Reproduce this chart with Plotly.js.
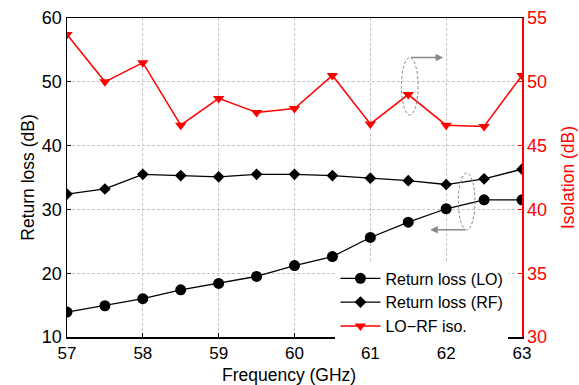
<!DOCTYPE html>
<html>
<head>
<meta charset="utf-8">
<script src="https://cdn.plot.ly/plotly-3.0.1.min.js"></script>
<style>html,body{margin:0;padding:0;background:#fff;}#chart{width:579px;height:385px;}</style>
</head>
<body>
<div id="chart"></div>
<script>
const freq = [57, 57.5, 58, 58.5, 59, 59.5, 60, 60.5, 61, 61.5, 62, 62.5, 63];
const returnLossLO = [13.9, 14.9, 16.0, 17.4, 18.4, 19.5, 21.2, 22.6, 25.6, 28.0, 30.1, 31.5, 31.5];
const returnLossRF = [32.4, 33.2, 35.5, 35.3, 35.1, 35.5, 35.5, 35.3, 34.9, 34.5, 33.9, 34.8, 36.3];
const isolationLORF = [53.7, 50.0, 51.5, 46.6, 48.7, 47.6, 47.9, 50.5, 46.7, 49.0, 46.6, 46.5, 50.5];
const seriesNames = ["Return loss (LO)", "Return loss (RF)", "LO\u2212RF iso."];
const xTitle = "Frequency (GHz)";

const font = "Liberation Sans, Arial, sans-serif";
const gridDash = "3px,2px";
const gridColor = "#c4c4c4";

const traces = [
  {x: freq, y: returnLossLO, name: seriesNames[0], mode: "lines+markers",
   line: {color: "#000", width: 1.3}, marker: {symbol: "circle", size: 11, color: "#000"}},
  {x: freq, y: returnLossRF, name: seriesNames[1], mode: "lines+markers",
   line: {color: "#000", width: 1.3}, marker: {symbol: "diamond", size: 9, color: "#000"}},
  {x: freq, y: isolationLORF, name: seriesNames[2], mode: "lines+markers", yaxis: "y2",
   line: {color: "#ff0000", width: 1.5}, marker: {symbol: "triangle-down", size: 10, color: "#ff0000"}}
];

const layout = {
  width: 579, height: 385,
  margin: {l: 67, r: 57, t: 18, b: 48},
  paper_bgcolor: "#fff", plot_bgcolor: "#fff",
  font: {family: font, size: 18, color: "#000"},
  showlegend: true,
  legend: {x: 0.59, y: -0.02, xanchor: "left", yanchor: "bottom", bgcolor: "#fff",
           font: {family: font, size: 16, color: "#000"}, itemwidth: 40, tracegroupgap: 0},
  xaxis: {range: [57, 63], dtick: 1, tick0: 57, ticks: "inside", ticklen: 4, tickcolor: "#000",
          showline: true, linecolor: "#000", linewidth: 1.5, mirror: true,
          tickfont: {size: 17},
          showgrid: true, gridcolor: gridColor, griddash: gridDash, gridwidth: 1, zeroline: false},
  yaxis: {range: [10, 60], dtick: 10, ticks: "inside", ticklen: 4, tickcolor: "#000",
          showline: true, linecolor: "#000", linewidth: 1.5, mirror: false,
          tickfont: {size: 18},
          showgrid: true, gridcolor: gridColor, griddash: gridDash, gridwidth: 1, zeroline: false,
          title: {text: "Return loss (dB)", standoff: 2, font: {size: 17.5}}},
  yaxis2: {range: [30, 55], dtick: 5, overlaying: "y", side: "right", ticks: "inside", ticklen: 4,
           tickcolor: "#ff0000", showline: true, linecolor: "#ff0000", linewidth: 1.5,
           showgrid: false, zeroline: false, tickfont: {color: "#ff0000", size: 18},
           title: {text: "Isolation (dB)", standoff: 15, font: {color: "#ff0000", size: 17.5}}},
  shapes: [
    {type: "circle", xref: "x", yref: "y", x0: 61.41, x1: 61.63, y0: 44.8, y1: 53.8,
     line: {color: "#888", width: 1, dash: "3px,2px"}},
    {type: "circle", xref: "x", yref: "y", x0: 62.16, x1: 62.38, y0: 26.8, y1: 35.7,
     line: {color: "#888", width: 1, dash: "3px,2px"}}
  ],
  annotations: [
    {x: 61.96, y: 53.8, xref: "x", yref: "y", ax: 61.52, ay: 53.8, axref: "x", ayref: "y",
     text: "", showarrow: true, arrowhead: 2, arrowsize: 1, arrowwidth: 1.5, arrowcolor: "#888"},
    {x: 61.79, y: 26.8, xref: "x", yref: "y", ax: 62.27, ay: 26.8, axref: "x", ayref: "y",
     text: "", showarrow: true, arrowhead: 2, arrowsize: 1, arrowwidth: 1.5, arrowcolor: "#888"},
    {x: 0.489, y: -0.118, xref: "paper", yref: "paper", xanchor: "center", yanchor: "middle",
     text: xTitle, showarrow: false, font: {size: 17.5, color: "#000"}}
  ]
};

Plotly.newPlot("chart", traces, layout, {displayModeBar: false, staticPlot: true});
</script>
</body>
</html>
